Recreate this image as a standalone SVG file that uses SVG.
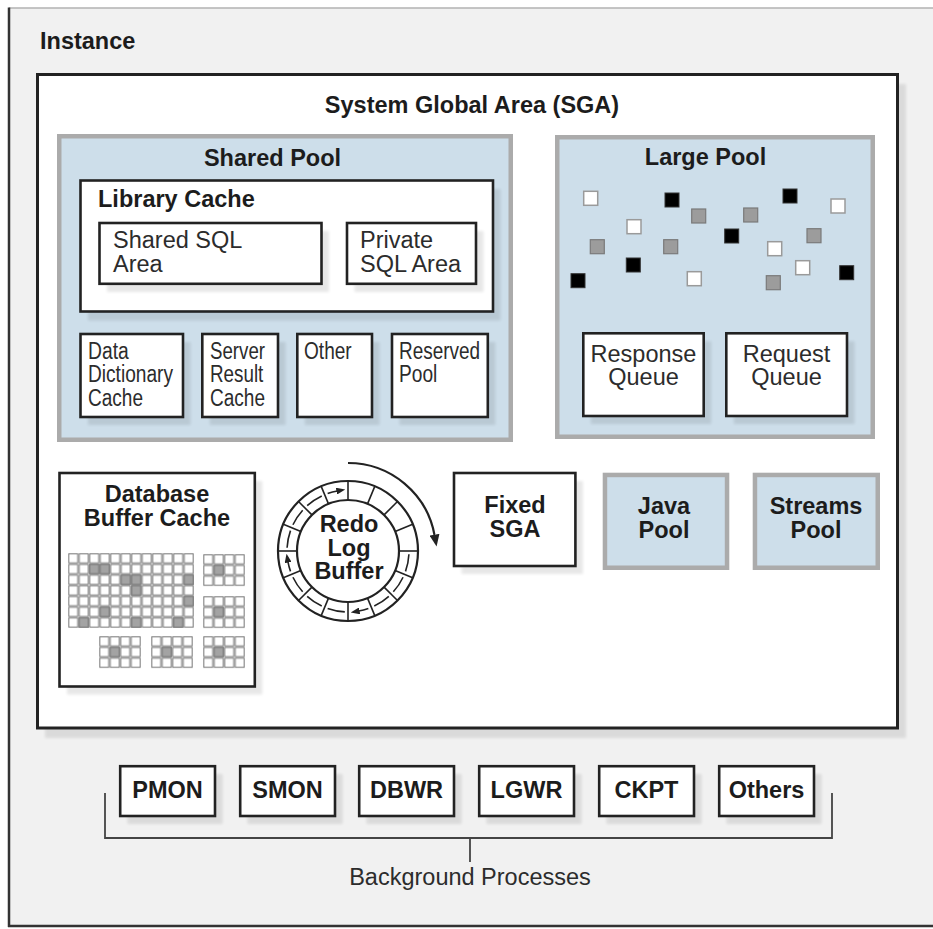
<svg xmlns="http://www.w3.org/2000/svg" width="933" height="929" viewBox="0 0 933 929">
<defs>
<style>
.b{font-family:"Liberation Sans",Arial,sans-serif;font-weight:bold;font-size:23.5px;fill:#1c1c1c}
.r{font-family:"Liberation Sans",Arial,sans-serif;font-size:23.5px;fill:#2c2c2c}
.n{font-family:"Liberation Sans Narrow","Liberation Sans",Arial,sans-serif;font-size:23px;fill:#2c2c2c}
.m{text-anchor:middle}
.box{fill:#fff;stroke:#222;stroke-width:2.6}
.pool{fill:#cddeea;stroke:#ababab;stroke-width:4.5}
.sh{fill:#000;opacity:.09;filter:url(#blur)}
.ln{fill:none;stroke:#222;stroke-width:2.2}
.bk{fill:none;stroke:#444;stroke-width:1.8}
.sq-w{fill:#fff;stroke:#9a9a9a;stroke-width:1.5}
.sq-k{fill:#000;stroke:#333;stroke-width:1}
.sq-g{fill:#9c9c9c;stroke:#7a7a7a;stroke-width:1.2}
.shade{fill:#a3a3a3}
</style>
<filter id="blur" x="-10%" y="-10%" width="120%" height="120%"><feGaussianBlur stdDeviation="1.5"/></filter>
<pattern id="cell" width="10.5" height="10.7" patternUnits="userSpaceOnUse"><rect x="0.8" y="0.8" width="8.9" height="9.1" fill="none" stroke="#777" stroke-width="1"/></pattern>
<g id="smallgrid"><rect width="42" height="32.1" fill="#fff"/><rect x="10.5" y="10.7" width="10.5" height="10.7" class="shade"/><rect width="42" height="32.1" fill="url(#cell)"/></g>
<marker id="ah" markerWidth="9" markerHeight="7" refX="1" refY="3.5" orient="auto" markerUnits="userSpaceOnUse"><path d="M0,0 L9,3.5 L0,7 z" fill="#222"/></marker>
<marker id="ahL" markerWidth="12" markerHeight="10" refX="1" refY="5" orient="auto" markerUnits="userSpaceOnUse"><path d="M0,0 L12,5 L0,10 z" fill="#222"/></marker>
</defs>

<rect width="933" height="929" fill="#fff"/>

<g id="instance">
<rect x="9" y="8" width="930" height="918" fill="#f1f1f1"/>
<line x1="9" y1="8" x2="933" y2="8" stroke="#b2b2b2" stroke-width="1.5"/>
<line x1="9" y1="7.5" x2="9" y2="927" stroke="#333" stroke-width="2.5"/>
<line x1="8" y1="926" x2="933" y2="926" stroke="#333" stroke-width="2.5"/>
<text class="b" x="40" y="49">Instance</text>
</g>

<g id="sga">
<rect class="sh" x="45" y="84" width="861" height="654"/>
<rect x="37.5" y="74.5" width="860" height="653.5" fill="#fff" stroke="#222" stroke-width="3"/>
<text class="b m" x="472" y="113">System Global Area (SGA)</text>
</g>

<g id="shared-pool">
<rect class="pool" x="59.25" y="136.25" width="451.5" height="303.5"/>
<text class="b m" x="272.5" y="166">Shared Pool</text>
</g>

<g id="library-cache">
<rect class="sh" x="88" y="189" width="412.5" height="131.5"/>
<rect class="box" x="80.5" y="180.5" width="412.5" height="131"/>
<text class="b" x="98" y="207">Library Cache</text>
</g>

<g id="shared-sql-area">
<rect class="sh" x="107" y="231" width="222" height="61"/>
<rect class="box" x="99.5" y="223" width="222" height="60.8"/>
<text class="r" x="113" y="248">Shared SQL</text>
<text class="r" x="113" y="272">Area</text>
</g>

<g id="private-sql-area">
<rect class="sh" x="354.5" y="231" width="129" height="61"/>
<rect class="box" x="347" y="223" width="129" height="60.8"/>
<text class="r" x="360" y="248">Private</text>
<text class="r" x="360" y="272">SQL Area</text>
</g>

<g id="data-dictionary-cache">
<rect class="sh" x="88" y="342" width="102.5" height="83"/>
<rect class="box" x="80.5" y="334" width="102.5" height="83"/>
<text class="n" x="88" y="359" textLength="40.7" lengthAdjust="spacingAndGlyphs">Data</text>
<text class="n" x="88" y="382" textLength="85" lengthAdjust="spacingAndGlyphs">Dictionary</text>
<text class="n" x="88" y="406" textLength="55" lengthAdjust="spacingAndGlyphs">Cache</text>
</g>

<g id="server-result-cache">
<rect class="sh" x="209.8" y="342" width="75.7" height="83"/>
<rect class="box" x="202.3" y="334" width="75.7" height="83"/>
<text class="n" x="210" y="359" textLength="55" lengthAdjust="spacingAndGlyphs">Server</text>
<text class="n" x="210" y="382" textLength="53.3" lengthAdjust="spacingAndGlyphs">Result</text>
<text class="n" x="210" y="406" textLength="55" lengthAdjust="spacingAndGlyphs">Cache</text>
</g>

<g id="other">
<rect class="sh" x="304.8" y="342" width="74.7" height="83"/>
<rect class="box" x="297.3" y="334" width="74.7" height="83"/>
<text class="n" x="304" y="359" textLength="47.7" lengthAdjust="spacingAndGlyphs">Other</text>
</g>

<g id="reserved-pool">
<rect class="sh" x="399.5" y="342" width="95.8" height="83"/>
<rect class="box" x="392" y="334" width="95.8" height="83"/>
<text class="n" x="399" y="359" textLength="81" lengthAdjust="spacingAndGlyphs">Reserved</text>
<text class="n" x="399" y="382" textLength="38.3" lengthAdjust="spacingAndGlyphs">Pool</text>
</g>

<g id="large-pool">
<rect class="pool" x="557.25" y="137.25" width="315.5" height="299.5"/>
<text class="b m" x="705.5" y="165">Large Pool</text>
<rect class="sq-w" x="583.7" y="191.3" width="14" height="14"/>
<rect class="sq-k" x="665" y="193" width="14" height="14"/>
<rect class="sq-k" x="783" y="189" width="14" height="14"/>
<rect class="sq-w" x="831" y="199" width="14" height="14"/>
<rect class="sq-g" x="691.7" y="209" width="14" height="14"/>
<rect class="sq-g" x="743.7" y="208" width="14" height="14"/>
<rect class="sq-w" x="627" y="219.7" width="14" height="14"/>
<rect class="sq-k" x="724.7" y="229" width="14" height="14"/>
<rect class="sq-g" x="807" y="228.7" width="14" height="14"/>
<rect class="sq-g" x="590.3" y="239.7" width="14" height="14"/>
<rect class="sq-g" x="663.7" y="239.7" width="14" height="14"/>
<rect class="sq-w" x="767.7" y="241.7" width="14" height="14"/>
<rect class="sq-k" x="626.3" y="258" width="14" height="14"/>
<rect class="sq-w" x="795.7" y="260.7" width="14" height="14"/>
<rect class="sq-k" x="839.7" y="265.7" width="14" height="14"/>
<rect class="sq-k" x="571" y="273.7" width="14" height="14"/>
<rect class="sq-w" x="687.3" y="271.7" width="14" height="14"/>
<rect class="sq-g" x="766.3" y="275.7" width="14" height="14"/>
</g>

<g id="response-queue">
<rect class="sh" x="590.8" y="341.3" width="120.4" height="82.7"/>
<rect class="box" x="583.3" y="333.3" width="120.4" height="82.7"/>
<text class="r m" x="643.5" y="362">Response</text>
<text class="r m" x="643.5" y="385">Queue</text>
</g>

<g id="request-queue">
<rect class="sh" x="733.8" y="341.3" width="120.7" height="82.7"/>
<rect class="box" x="726.3" y="333.3" width="120.7" height="82.7"/>
<text class="r m" x="786.5" y="362">Request</text>
<text class="r m" x="786.5" y="385">Queue</text>
</g>

<g id="db-buffer-cache">
<rect class="sh" x="67" y="481" width="195.3" height="213.5"/>
<rect class="box" x="59.5" y="473" width="195.3" height="213.5"/>
<text class="b m" x="157" y="502">Database</text>
<text class="b m" x="157" y="526">Buffer Cache</text>
<g transform="translate(68,553)">
<rect width="126" height="74.9" fill="#fff"/>
<rect x="21" y="10.7" width="21" height="10.7" class="shade"/>
<rect x="52.5" y="21.4" width="21" height="10.7" class="shade"/>
<rect x="63" y="32.1" width="10.5" height="10.7" class="shade"/>
<rect x="115.5" y="21.4" width="10.5" height="10.7" class="shade"/>
<rect x="115.5" y="42.8" width="10.5" height="10.7" class="shade"/>
<rect x="31.5" y="53.5" width="10.5" height="10.7" class="shade"/>
<rect x="10.5" y="64.2" width="10.5" height="10.7" class="shade"/>
<rect x="63" y="64.2" width="10.5" height="10.7" class="shade"/>
<rect x="105" y="64.2" width="10.5" height="10.7" class="shade"/>
<rect width="126" height="74.9" fill="url(#cell)"/>
</g>
<use href="#smallgrid" transform="translate(203,554)"/>
<use href="#smallgrid" transform="translate(203,596)"/>
<use href="#smallgrid" transform="translate(99,636)"/>
<use href="#smallgrid" transform="translate(151,636)"/>
<use href="#smallgrid" transform="translate(203,636)"/>
</g>

<g id="redo-log-buffer">
<circle cx="348" cy="551" r="70" fill="#fff" stroke="#222" stroke-width="2.2"/>
<circle cx="348" cy="551" r="51" fill="#fff" stroke="#222" stroke-width="2.2"/>
<g stroke="#222" stroke-width="1.6">
<line x1="348" y1="500" x2="348" y2="481"/>
<line x1="367.52" y1="503.88" x2="374.79" y2="486.33"/>
<line x1="384.06" y1="514.94" x2="397.5" y2="501.5"/>
<line x1="395.12" y1="531.48" x2="412.67" y2="524.21"/>
<line x1="399" y1="551" x2="418" y2="551"/>
<line x1="395.12" y1="570.52" x2="412.67" y2="577.79"/>
<line x1="384.06" y1="587.06" x2="397.5" y2="600.5"/>
<line x1="367.52" y1="598.12" x2="374.79" y2="615.67"/>
<line x1="348" y1="602" x2="348" y2="621"/>
<line x1="328.48" y1="598.12" x2="321.21" y2="615.67"/>
<line x1="311.94" y1="587.06" x2="298.5" y2="600.5"/>
<line x1="300.88" y1="570.52" x2="283.33" y2="577.79"/>
<line x1="297" y1="551" x2="278" y2="551"/>
<line x1="300.88" y1="531.48" x2="283.33" y2="524.21"/>
<line x1="311.94" y1="514.94" x2="298.5" y2="501.5"/>
<line x1="328.48" y1="503.88" x2="321.21" y2="486.33"/>
</g>
<g fill="none" stroke="#222" stroke-width="1.6">
<path d="M408.92,554.19 A61,61 0 0 1 405.5,571.36"/>
<path d="M403.06,577.26 A61,61 0 0 1 393.33,591.82"/>
<path d="M388.82,596.33 A61,61 0 0 1 374.26,606.06"/>
<path d="M368.36,608.5 A61,61 0 0 1 358.59,611.07" marker-end="url(#ah)"/>
<path d="M344.81,611.92 A61,61 0 0 1 327.64,608.5"/>
<path d="M321.74,606.06 A61,61 0 0 1 307.18,596.33"/>
<path d="M302.67,591.82 A61,61 0 0 1 292.94,577.26"/>
<path d="M290.5,571.36 A61,61 0 0 1 287.93,561.59" marker-end="url(#ah)"/>
<path d="M287.08,547.81 A61,61 0 0 1 290.5,530.64"/>
<path d="M292.94,524.74 A61,61 0 0 1 302.67,510.18"/>
<path d="M307.18,505.67 A61,61 0 0 1 321.74,495.94"/>
<path d="M327.64,493.5 A61,61 0 0 1 337.41,490.93" marker-end="url(#ah)"/>
</g>
<path class="ln" d="M348,463 A88,88 0 0 1 434.66,535.72" marker-end="url(#ahL)"/>
<text class="b m" x="349" y="532">Redo</text>
<text class="b m" x="349" y="555.5">Log</text>
<text class="b m" x="349" y="579">Buffer</text>
</g>

<g id="fixed-sga">
<rect class="sh" x="461.5" y="481" width="121.4" height="93"/>
<rect class="box" x="454" y="473" width="121.4" height="93"/>
<text class="b m" x="515" y="513">Fixed</text>
<text class="b m" x="515" y="537">SGA</text>
</g>

<g id="java-pool">
<rect class="pool" x="604.95" y="474.95" width="122.1" height="92.8"/>
<text class="b m" x="664" y="514">Java</text>
<text class="b m" x="664" y="538">Pool</text>
</g>

<g id="streams-pool">
<rect class="pool" x="754.95" y="474.95" width="122.8" height="92.8"/>
<text class="b m" x="816" y="514">Streams</text>
<text class="b m" x="816" y="538">Pool</text>
</g>

<g id="pmon">
<rect class="sh" x="127.5" y="774" width="95" height="50"/>
<rect class="box" x="120.2" y="766.2" width="94.8" height="49.8"/>
<text class="b m" x="167.5" y="798">PMON</text>
</g>
<g id="smon">
<rect class="sh" x="247.5" y="774" width="95" height="50"/>
<rect class="box" x="240.2" y="766.2" width="94.8" height="49.8"/>
<text class="b m" x="287.5" y="798">SMON</text>
</g>
<g id="dbwr">
<rect class="sh" x="366.5" y="774" width="95" height="50"/>
<rect class="box" x="359.2" y="766.2" width="94.8" height="49.8"/>
<text class="b m" x="406.5" y="798">DBWR</text>
</g>
<g id="lgwr">
<rect class="sh" x="486.5" y="774" width="95" height="50"/>
<rect class="box" x="479.2" y="766.2" width="94.8" height="49.8"/>
<text class="b m" x="526.5" y="798">LGWR</text>
</g>
<g id="ckpt">
<rect class="sh" x="606.5" y="774" width="95" height="50"/>
<rect class="box" x="599.2" y="766.2" width="94.8" height="49.8"/>
<text class="b m" x="646.5" y="798">CKPT</text>
</g>
<g id="others">
<rect class="sh" x="726.5" y="774" width="95" height="50"/>
<rect class="box" x="719.2" y="766.2" width="94.8" height="49.8"/>
<text class="b m" x="766.5" y="798">Others</text>
</g>

<g id="connectors">
<path class="bk" d="M105,793 V838 H832 V793"/>
<line class="bk" x1="470" y1="838" x2="470" y2="862"/>
</g>

<g id="background-processes">
<text class="r m" x="470" y="885" fill="#333">Background Processes</text>
</g>
</svg>
